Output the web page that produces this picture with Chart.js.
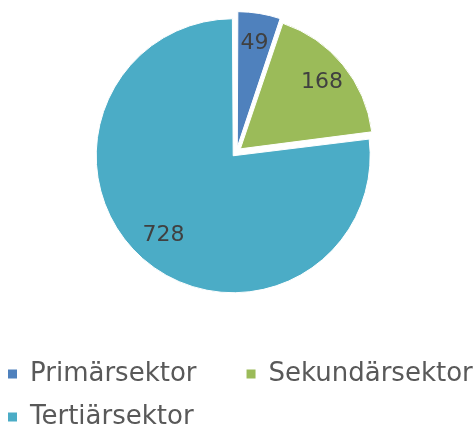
<!DOCTYPE html>
<html>
<head>
<meta charset="utf-8">
<script src="https://cdn.jsdelivr.net/npm/chart.js@4.4.1/dist/chart.umd.min.js"></script>
<style>
  html, body { margin: 0; padding: 0; background: #fff; }
</style>
</head>
<body>
<canvas id="graficaTorta" width="473" height="432"></canvas>
<script>
// Datos del gráfico
const sektorer = ['Primärsektor', 'Sekundärsektor', 'Tertiärsektor'];
const antal = [49, 168, 728];
const farger = ['#4f81bd', '#9bbb59', '#4bacc6'];

// Valores dentro de cada sector
const etiquetas = {
    id: 'etiquetas',
    afterDatasetsDraw(chart) {
        const ctx = chart.ctx;
        const meta = chart.getDatasetMeta(0);
        ctx.save();
        ctx.font = '22px "DejaVu Sans"';
        ctx.fillStyle = '#404040';
        ctx.textAlign = 'center';
        ctx.textBaseline = 'middle';
        meta.data.forEach((arc, i) => {
            const mitad = (arc.startAngle + arc.endAngle) / 2;
            const dist = arc.options.offset / 4 + arc.outerRadius * 0.8;
            ctx.fillText(String(antal[i]), arc.x + Math.cos(mitad) * dist, arc.y + Math.sin(mitad) * dist);
        });
        ctx.restore();
    }
};

const ctxTorta = document.getElementById('graficaTorta');

new Chart(ctxTorta, {
    type: 'pie',
    data: {
        labels: sektorer,
        datasets: [{
            data: antal,
            backgroundColor: farger,
            borderColor: '#ffffff',
            borderWidth: 1,
            offset: 20
        }]
    },
    options: {
        responsive: false,
        animation: false,
        radius: 132,
        layout: {
            padding: { left: -9, right: -17, top: 0, bottom: -8 }
        },
        plugins: {
            tooltip: { enabled: false },
            legend: {
                position: 'bottom',
                align: 'start',
                // título vacío: solo deja espacio entre la torta y la leyenda
                title: {
                    display: true,
                    text: '',
                    font: { size: 10 },
                    padding: { top: 0, bottom: 28 }
                },
                labels: {
                    boxWidth: 9,
                    boxHeight: 9,
                    padding: 17,
                    color: '#595959',
                    font: { family: 'DejaVu Sans', size: 26 },
                    generateLabels(chart) {
                        const base = Chart.controllers.pie.overrides.plugins.legend.labels.generateLabels(chart);
                        return base.map((item, i) => {
                            item.lineWidth = 0;
                            // espacio extra para separar las columnas como en el original
                            if (i === 0) item.text = item.text + '    ';
                            return item;
                        });
                    }
                }
            }
        }
    },
    plugins: [etiquetas]
});
</script>
</body>
</html>
